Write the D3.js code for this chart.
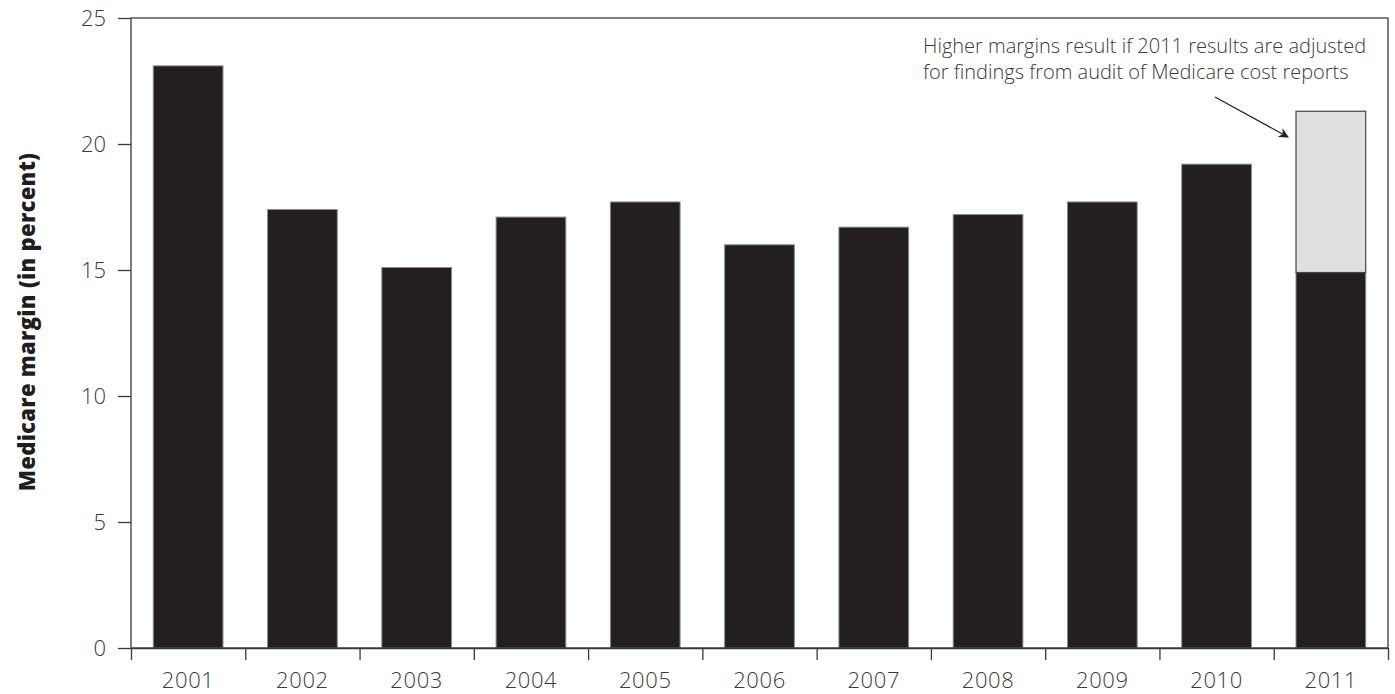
<!DOCTYPE html>
<html><head><meta charset="utf-8">
<script src="https://cdn.jsdelivr.net/npm/d3@7/dist/d3.min.js"></script>
<style>
html,body{margin:0;padding:0;background:#fff;}
svg{display:block;}
</style></head>
<body>
<svg id="chart" width="1395" height="694"></svg>
<script>
const years = ["2001","2002","2003","2004","2005","2006","2007","2008","2009","2010","2011"];
const margins = [23.1, 17.4, 15.1, 17.1, 17.7, 16.0, 16.7, 17.2, 17.7, 19.2, 14.9];
const adjusted = [null, null, null, null, null, null, null, null, null, null, 21.3];
const yTicks = [0, 5, 10, 15, 20, 25];
const yTitle = "Medicare margin (in percent)";
const noteLines = ["Higher margins result if 2011 results are adjusted", "for findings from audit of Medicare cost reports"];

const svg = d3.select("#chart");
const L = 131, R = 1388, T = 18, B = 648;
const lineCol = "#3a3a3a", textCol = "#3a3a3a", barCol = "#231f20";
const font = "'Open Sans', Lato, sans-serif";

const x = d3.scaleBand().domain(years).range([L, R]).paddingInner(0.39).paddingOuter(0.195);
const y = d3.scaleLinear().domain([0, 25]).range([B, T]);
const xb = d3.scaleLinear().domain([0, years.length]).range([L, R]);

// bars
svg.append("g").selectAll("rect.base").data(years).join("rect")
  .attr("x", d => x(d)).attr("width", x.bandwidth())
  .attr("y", (d, i) => y(margins[i])).attr("height", (d, i) => y(0) - y(margins[i]))
  .attr("fill", barCol).attr("stroke", "#8a8a8a").attr("stroke-width", 1);

svg.append("g").selectAll("rect.adj").data(years.filter((d, i) => adjusted[i] != null)).join("rect")
  .attr("x", d => x(d)).attr("width", x.bandwidth())
  .attr("y", d => y(adjusted[years.indexOf(d)]))
  .attr("height", d => y(margins[years.indexOf(d)]) - y(adjusted[years.indexOf(d)]))
  .attr("fill", "#dedfe1").attr("stroke", "#444").attr("stroke-width", 1.2);

// frame
svg.append("rect").attr("x", L).attr("y", T).attr("width", R - L).attr("height", B - T)
  .attr("fill", "none").attr("stroke", lineCol).attr("stroke-width", 1.3);

// y axis
const ya = svg.append("g").attr("transform", `translate(${L},0)`)
  .call(d3.axisLeft(y).tickValues(yTicks).tickSize(13).tickSizeOuter(0).tickPadding(12));
ya.select(".domain").remove();
ya.selectAll("line").attr("stroke", lineCol).attr("stroke-width", 1.3);
ya.selectAll("text").attr("fill", textCol).style("font-family", font).style("font-weight", 300).style("font-size", "22px");

// x boundary ticks
const xt = svg.append("g").attr("transform", `translate(0,${B})`)
  .call(d3.axisBottom(xb).tickValues(d3.range(0, years.length + 1)).tickSize(12).tickSizeOuter(0).tickFormat(""));
xt.select(".domain").attr("stroke", lineCol).attr("stroke-width", 1.3);
xt.selectAll("line").attr("stroke", lineCol).attr("stroke-width", 1.3);

// x labels
const xl = svg.append("g").attr("transform", `translate(0,${B})`)
  .call(d3.axisBottom(x).tickSize(0).tickPadding(24));
xl.select(".domain").remove();
xl.selectAll("text").attr("fill", textCol).style("font-family", font).style("font-weight", 300).style("font-size", "22px")
  .style("letter-spacing", "0.6px");

// y title
svg.append("text").attr("transform", `translate(26,${322}) rotate(-90)`)
  .attr("text-anchor", "middle").attr("dominant-baseline", "central")
  .attr("fill", "#1e1e1e").style("font-family", "'Open Sans', sans-serif").style("font-weight", 800).style("font-size", "22px")
  .style("letter-spacing", "0.3px")
  .text(yTitle);

// annotation
const note = svg.append("text").attr("x", 923).attr("y", 53)
  .attr("fill", textCol).style("font-family", font).style("font-weight", 300).style("font-size", "20px");
note.selectAll("tspan").data(noteLines).join("tspan")
  .attr("x", 923).attr("dy", (d, i) => i === 0 ? 0 : 26).text(d => d);

// arrow
svg.append("defs").append("marker").attr("id", "ah").attr("viewBox", "0 0 10 10")
  .attr("refX", 9).attr("refY", 5).attr("markerWidth", 14).attr("markerHeight", 10)
  .attr("markerUnits", "userSpaceOnUse").attr("orient", "auto")
  .append("path").attr("d", "M0,0 L10,5 L0,10 L3,5 Z").attr("fill", "#222");
const lastX = x("2011");
svg.append("line").attr("x1", lastX - 81).attr("y1", 97).attr("x2", lastX - 8).attr("y2", 137)
  .attr("stroke", "#222").attr("stroke-width", 1.3).attr("marker-end", "url(#ah)");
</script>
</body></html>
